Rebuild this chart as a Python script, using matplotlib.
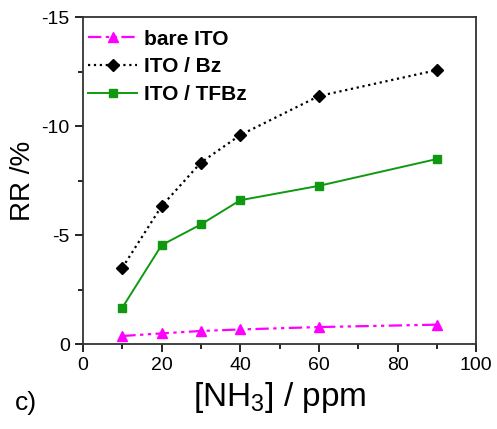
import matplotlib.pyplot as plt
from matplotlib.ticker import MultipleLocator

plt.rcParams['font.family'] = ['Liberation Sans', 'DejaVu Sans']
plt.rcParams['axes.unicode_minus'] = False
plt.rcParams['mathtext.fontset'] = 'custom'
plt.rcParams['mathtext.rm'] = 'Liberation Sans'
plt.rcParams['mathtext.it'] = 'Liberation Sans:italic'

conc = [10, 20, 30, 40, 60, 90]
bare_ito = [-0.37, -0.49, -0.6, -0.67, -0.78, -0.89]
ito_bz = [-3.5, -6.33, -8.33, -9.59, -11.38, -12.57]
ito_tfbz = [-1.67, -4.54, -5.49, -6.6, -7.26, -8.49]

fig = plt.figure(figsize=(4.97, 4.29), dpi=100)
ax = fig.add_axes([0.167, 0.198, 0.791, 0.762])

ax.plot(conc, bare_ito, color='#ff00ff', linestyle=(0, (6, 2, 1.5, 2, 1.5, 2)), lw=1.6,
        marker='^', ms=7, label='bare ITO')
ax.plot(conc, ito_bz, color='black', linestyle=':', lw=1.6,
        marker='D', ms=6, label='ITO / Bz')
ax.plot(conc, ito_tfbz, color='#109910', linestyle='-', lw=1.4,
        marker='s', ms=6, label='ITO / TFBz')

ax.set_xlim(0, 100)
ax.set_ylim(0, -15)
ax.xaxis.set_major_locator(MultipleLocator(20))
ax.xaxis.set_minor_locator(MultipleLocator(10))
ax.yaxis.set_major_locator(MultipleLocator(5))
ax.yaxis.set_minor_locator(MultipleLocator(2.5))
ax.tick_params(which='both', direction='out', labelsize=14, width=1.2)
ax.tick_params(which='major', length=6)
ax.tick_params(which='minor', length=3.5)
for s in ax.spines.values():
    s.set_linewidth(1.3)
    s.set_color('#333333')

ax.set_xlabel('[NH$_\\mathrm{3}$] / ppm', fontsize=24, labelpad=4)
ax.set_ylabel('RR /%', fontsize=20, labelpad=4)

ax.legend(loc='upper left', bbox_to_anchor=(0.0, 0.978), frameon=False,
          prop={'weight': 'bold', 'size': 15},
          handlelength=2.35, borderaxespad=0.1, borderpad=0.15, labelspacing=0.42,
          handletextpad=0.33)

fig.text(0.03, 0.045, 'c)', fontsize=19)

fig.savefig('out.png', dpi=100)
